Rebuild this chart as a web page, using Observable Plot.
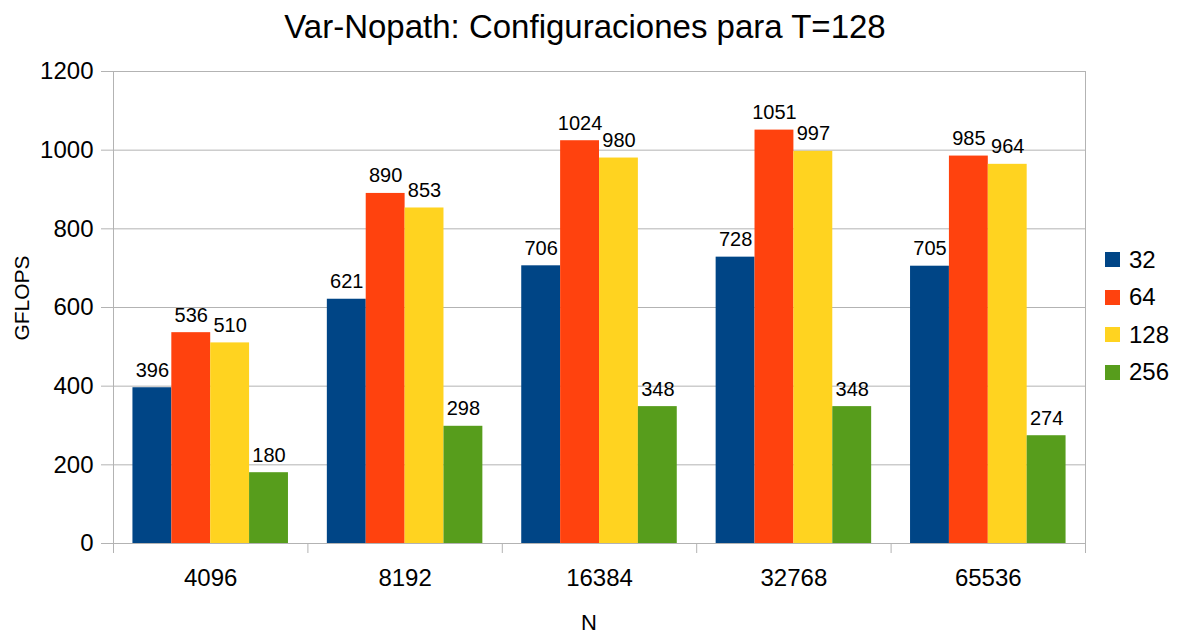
<!DOCTYPE html>
<html>
<head>
<meta charset="utf-8">
<script src="https://cdn.jsdelivr.net/npm/d3@7"></script>
<script src="https://cdn.jsdelivr.net/npm/@observablehq/plot@0.6"></script>
<style>
  html, body { margin: 0; padding: 0; background: #fff; }
  #wrap { position: relative; width: 1180px; height: 635px; font-family: "Liberation Sans", Arial, sans-serif; color: #000; overflow: hidden; }
  #wrap svg { position: absolute; left: 0; top: 0; }
  .title { position: absolute; left: 0; width: 1170px; top: 8px; text-align: center; font-size: 33px; line-height: 38px; }
  .ylab { position: absolute; left: 22px; top: 298px; transform: translate(-50%, -50%) rotate(-90deg); font-size: 21px; white-space: nowrap; }
  .xlab { position: absolute; left: 589px; top: 613px; transform: translateX(-50%); font-size: 22px; line-height: 20px; }
  .legend { position: absolute; left: 1105px; top: 241px; }
  .legend .row { display: flex; align-items: center; height: 37.5px; font-size: 24px; }
  .legend .sw { width: 15px; height: 15px; margin-right: 9px; }
</style>
</head>
<body>
<div id="wrap"></div>
<script>
const titleText = "Var-Nopath: Configuraciones para T=128";
const xLabel = "N";
const yLabel = "GFLOPS";
const categories = ["4096", "8192", "16384", "32768", "65536"];
const seriesNames = ["32", "64", "128", "256"];
const colors = ["#004586", "#ff420e", "#ffd320", "#579d1c"];
const s32 = [396, 621, 706, 728, 705];
const s64 = [536, 890, 1024, 1051, 985];
const s128 = [510, 853, 980, 997, 964];
const s256 = [180, 298, 348, 348, 274];
const yTicks = [0, 200, 400, 600, 800, 1000, 1200];

const seriesValues = [s32, s64, s128, s256];
const data = [];
categories.forEach((c, gi) => {
  seriesNames.forEach((s, si) => {
    data.push({n: c, s, v: seriesValues[si][gi], gi, si});
  });
});
const groupPad = 0.1, barW = 0.2;
const x1 = d => d.gi + groupPad + d.si * barW;
const x2 = d => d.gi + groupPad + (d.si + 1) * barW;
const xc = d => d.gi + groupPad + (d.si + 0.5) * barW;
const boundaries = d3.range(categories.length + 1);
const centers = categories.map((c, i) => i + 0.5);
const grid = "#b3b3b3";

const chart = Plot.plot({
  width: 1180,
  height: 635,
  marginLeft: 113,
  marginRight: 95,
  marginTop: 71,
  marginBottom: 92,
  style: {fontFamily: "Liberation Sans, Arial, sans-serif", background: "white", color: "black"},
  x: {type: "linear", domain: [0, categories.length], axis: null},
  y: {domain: [0, 1200], axis: null},
  color: {domain: seriesNames, range: colors},
  marks: [
    Plot.gridY(yTicks, {stroke: grid, strokeOpacity: 1, strokeWidth: 1}),
    Plot.ruleX([0, categories.length], {stroke: grid, strokeWidth: 1}),
    Plot.axisY(yTicks, {anchor: "left", tickSize: 12, tickPadding: 8, tickFormat: d => String(d), stroke: grid, strokeOpacity: 1, fill: "black", fontSize: 24, label: null}),
    Plot.axisX(boundaries, {anchor: "bottom", tickSize: 10, tickFormat: () => "", stroke: grid, strokeOpacity: 1, label: null}),
    Plot.axisX(centers, {anchor: "bottom", tickSize: 0, tickPadding: 25, tickFormat: v => categories[Math.round(v - 0.5)], fill: "black", fontSize: 24, label: null}),
    Plot.ruleY([0], {stroke: grid, strokeWidth: 1}),
    Plot.rectY(data, {x1, x2, y1: 0, y2: "v", fill: "s"}),
    Plot.text(data, {x: xc, y: "v", text: d => String(d.v), lineAnchor: "bottom", dy: -11, fontSize: 20, fill: "black"})
  ]
});

const wrap = document.getElementById("wrap");
wrap.appendChild(chart);
const t = document.createElement("div"); t.className = "title"; t.textContent = titleText; wrap.appendChild(t);
const yl = document.createElement("div"); yl.className = "ylab"; yl.textContent = yLabel; wrap.appendChild(yl);
const xl = document.createElement("div"); xl.className = "xlab"; xl.textContent = xLabel; wrap.appendChild(xl);
const lg = document.createElement("div"); lg.className = "legend";
seriesNames.forEach((s, i) => {
  const r = document.createElement("div"); r.className = "row";
  const sw = document.createElement("div"); sw.className = "sw"; sw.style.background = colors[i];
  const tx = document.createElement("span"); tx.textContent = s;
  r.appendChild(sw); r.appendChild(tx); lg.appendChild(r);
});
wrap.appendChild(lg);
</script>
</body>
</html>
